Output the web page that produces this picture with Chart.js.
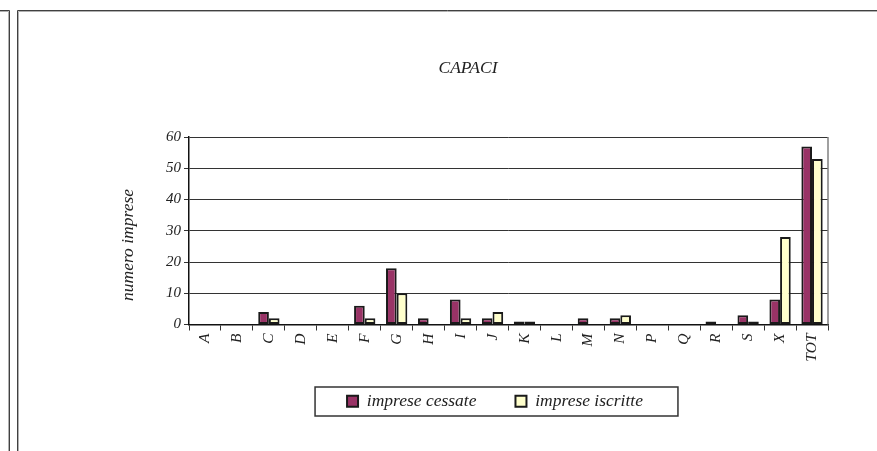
<!DOCTYPE html>
<html>
<head>
<meta charset="utf-8">
<script src="https://cdn.jsdelivr.net/npm/chart.js@4/dist/chart.umd.min.js"></script>
<style>
  body { margin: 0; background: #fff; }
  canvas { display: block; }
</style>
</head>
<body>
<canvas id="capaci_bar" width="877" height="451"></canvas>
<script>
// Chart values
var categories = ['A', 'B', 'C', 'D', 'E', 'F', 'G', 'H', 'I', 'J', 'K', 'L', 'M', 'N', 'P', 'Q', 'R', 'S', 'X', 'TOT'];
var cessate = [0, 0, 4, 0, 0, 6, 18, 2, 8, 2, 1, 0, 2, 2, 0, 0, 1, 3, 8, 57];
var iscritte = [0, 0, 2, 0, 0, 2, 10, 0, 2, 4, 1, 0, 0, 3, 0, 0, 0, 1, 28, 53];
var yTicks = [0, 10, 20, 30, 40, 50, 60];

var serif = "'Liberation Serif', 'Times New Roman', serif";

// frame, title, axis title, legend border and plot border
var decor = {
    id: 'decor',
    afterLayout: function (chart) {
        // pull the legend up a bit, closer to the axis labels
        chart.legend.top -= 11;
        chart.legend.bottom -= 11;
    },
    beforeDraw: function (chart) {
        var c = chart.ctx;
        c.save();
        c.fillStyle = '#fff';
        c.fillRect(0, 0, chart.width, chart.height);
        c.lineWidth = 1;
        c.strokeStyle = '#404040';
        c.beginPath();
        c.moveTo(0, 10.5); c.lineTo(9.5, 10.5); c.lineTo(9.5, 451);
        c.moveTo(17.5, 451); c.lineTo(17.5, 10.5); c.lineTo(877, 10.5);
        c.stroke();
        c.strokeStyle = '#b0b0b0';
        c.beginPath();
        c.moveTo(0, 11.5); c.lineTo(8.5, 11.5); c.lineTo(8.5, 451);
        c.moveTo(18.5, 451); c.lineTo(18.5, 11.5); c.lineTo(877, 11.5);
        c.stroke();
        c.restore();
    },
    afterDraw: function (chart) {
        var c = chart.ctx;
        var a = chart.chartArea;
        c.save();
        // right border of plot area
        c.strokeStyle = '#808080';
        c.lineWidth = 1.5;
        c.beginPath();
        c.moveTo(a.right, a.top);
        c.lineTo(a.right, a.bottom);
        c.stroke();

        c.fillStyle = '#222';
        c.textAlign = 'center';
        c.textBaseline = 'middle';
        c.font = 'italic 17.5px ' + serif;
        c.fillText('CAPACI', 468, 68);

        c.translate(128, 245);
        c.rotate(-Math.PI / 2);
        c.fillText('numero imprese', 0, 0);
        c.restore();

        // legend frame
        var hb = chart.legend.legendHitBoxes;
        if (hb && hb.length) {
            var first = hb[0], last = hb[hb.length - 1];
            var mid = first.top + first.height / 2;
            c.save();
            c.strokeStyle = '#333';
            c.lineWidth = 1.5;
            c.strokeRect(first.left - 32, Math.round(mid - 14.5), last.left + last.width + 35 - (first.left - 32), 29);
            c.restore();
        }
    }
};

var ctx = document.getElementById('capaci_bar').getContext('2d');
var chart = new Chart(ctx, {
    type: 'bar',
    data: {
        labels: categories,
        datasets: [{
            label: 'imprese cessate',
            backgroundColor: '#993366',
            borderColor: '#1a1a1a',
            borderWidth: 2,
            borderSkipped: false,
            data: cessate
        }, {
            label: 'imprese iscritte',
            backgroundColor: '#FFFFCC',
            borderColor: '#1a1a1a',
            borderWidth: 2,
            borderSkipped: false,
            data: iscritte
        }]
    },
    options: {
        responsive: false,
        animation: false,
        layout: { padding: { left: 162, right: 49, top: 137, bottom: 20 } },
        datasets: { bar: { categoryPercentage: 0.667, barPercentage: 1.0 } },
        plugins: {
            title: { display: false },
            tooltip: { enabled: false },
            legend: {
                position: 'bottom',
                labels: {
                    color: '#222',
                    font: { family: serif, size: 17.5, style: 'italic' },
                    boxWidth: 11,
                    boxHeight: 11,
                    padding: 39
                }
            }
        },
        scales: {
            x: {
                afterFit: function (scale) { scale.height = 40; },
                grid: { offset: true, drawOnChartArea: false, drawTicks: true, tickLength: 6, color: '#333', lineWidth: 1 },
                border: { display: true, color: '#111', width: 1.5 },
                ticks: {
                    color: '#222',
                    font: { family: serif, size: 15.5, style: 'italic' },
                    minRotation: 90,
                    maxRotation: 90,
                    padding: 3,
                    autoSkip: false
                }
            },
            y: {
                min: yTicks[0],
                max: yTicks[yTicks.length - 1],
                afterFit: function (scale) { scale.width = 27; },
                afterBuildTicks: function (scale) {
                    scale.ticks = yTicks.map(function (v) { return { value: v }; });
                },
                grid: { color: '#333', lineWidth: 1, tickLength: 5 },
                border: { display: true, color: '#111', width: 1.5 },
                ticks: {
                    color: '#222',
                    font: { family: serif, size: 15, style: 'italic' },
                    padding: 3
                }
            }
        }
    },
    plugins: [decor]
});
</script>
</body>
</html>
